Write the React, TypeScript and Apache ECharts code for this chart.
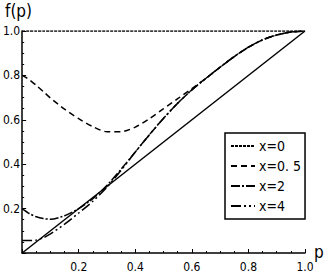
import React, { useEffect, useRef } from "react";
import * as echarts from "echarts";

const P_GRID = [0, 0.025, 0.05, 0.075, 0.1, 0.15, 0.2, 0.25, 0.3, 0.35, 0.4, 0.45, 0.5, 0.55, 0.6, 0.65, 0.7, 0.75, 0.8, 0.85, 0.9, 0.95, 1.0];
const X0_VALUES = [1, 1, 1, 1, 1, 1, 1, 1, 1, 1, 1, 1, 1, 1, 1, 1, 1, 1, 1, 1, 1, 1, 1];
const X05_VALUES = [0.8, 0.781, 0.755, 0.727, 0.698, 0.648, 0.605, 0.569, 0.546, 0.546, 0.567, 0.605, 0.65, 0.695, 0.74, 0.787, 0.837, 0.885, 0.927, 0.96, 0.982, 0.995, 1.0];
const X2_VALUES = [0.2, 0.178, 0.163, 0.155, 0.152, 0.168, 0.2, 0.245, 0.305, 0.378, 0.455, 0.533, 0.607, 0.675, 0.735, 0.787, 0.837, 0.885, 0.927, 0.96, 0.982, 0.995, 1.0];
const X4_VALUES = [0.056, 0.056, 0.058, 0.068, 0.086, 0.13, 0.18, 0.233, 0.297, 0.373, 0.455, 0.533, 0.607, 0.675, 0.735, 0.787, 0.837, 0.885, 0.927, 0.96, 0.982, 0.995, 1.0];
const DIAG_P = [0, 1];
const DIAG_VALUES = [0, 1];
const SERIES_NAMES = ["x=0", "x=0. 5", "x=2", "x=4"];

const FONT = "'Liberation Sans Narrow', 'DejaVu Sans Condensed', 'Liberation Sans', sans-serif";

const pairs = (xs: number[], ys: number[]) => xs.map((x, i) => [x, ys[i]]);

export default function App() {
  const ref = useRef<HTMLDivElement>(null);
  useEffect(() => {
    if (!ref.current) return;
    const chart = echarts.init(ref.current, null, { renderer: "svg" });
    const lineSeries = (name: string, ys: number[], type: any) => ({
      name,
      type: "line",
      data: pairs(P_GRID, ys),
      smooth: 0.25,
      symbol: "none",
      showSymbol: false,
      lineStyle: { color: "#000", width: 1.5, type },
      itemStyle: { color: "#000" },
    });
    chart.setOption({
      animation: false,
      backgroundColor: "#fff",
      grid: { left: 17, right: 22, top: 31, bottom: 20, containLabel: false },
      legend: {
        data: SERIES_NAMES,
        orient: "vertical",
        left: 225,
        top: 133,
        itemWidth: 24,
        itemHeight: 14,
        itemGap: 6,
        padding: [6, 4, 6, 5],
        borderColor: "#000",
        borderWidth: 1.5,
        backgroundColor: "#fff",
        itemStyle: { opacity: 0 },
        textStyle: { color: "#000", fontSize: 14, fontFamily: FONT, padding: [0, 0, 0, -1] },
      },
      xAxis: {
        type: "value",
        min: 0,
        max: 1,
        interval: 0.2,
        axisLine: { onZero: false, lineStyle: { color: "#000", width: 1.5 } },
        axisTick: { show: true, inside: true, length: 4, lineStyle: { color: "#000" } },
        minorTick: { show: true, splitNumber: 4, length: 2, lineStyle: { color: "#000" } },
        splitLine: { show: false },
        axisLabel: {
          color: "#000",
          fontSize: 12,
          fontFamily: FONT,
          margin: 8,
          formatter: (v: number) => (v === 0 ? "" : v.toFixed(1)),
        },
      },
      yAxis: {
        type: "value",
        min: 0,
        max: 1,
        interval: 0.2,
        axisLine: { show: true, onZero: false, lineStyle: { color: "#000", width: 1.5 } },
        axisTick: { show: true, inside: true, length: 4, lineStyle: { color: "#000" } },
        minorTick: { show: true, splitNumber: 4, length: 2, lineStyle: { color: "#000" } },
        splitLine: { show: false },
        axisLabel: {
          color: "#000",
          fontSize: 12,
          fontFamily: FONT,
          margin: 2,
          formatter: (v: number) => (v === 0 ? "" : v.toFixed(1)),
        },
      },
      graphic: [
        { type: "text", left: 5, top: 2, style: { text: "f(p)", fontSize: 17, fontFamily: FONT, fill: "#000" } },
        { type: "text", left: 314, top: 243, style: { text: "p", fontSize: 17, fontFamily: FONT, fill: "#000" } },
      ],
      series: [
        {
          name: "diag",
          type: "line",
          data: pairs(DIAG_P, DIAG_VALUES),
          symbol: "none",
          showSymbol: false,
          lineStyle: { color: "#000", width: 1.5, type: "solid" },
        },
        lineSeries(SERIES_NAMES[0], X0_VALUES, [3, 1]),
        lineSeries(SERIES_NAMES[1], X05_VALUES, [6, 4]),
        lineSeries(SERIES_NAMES[2], X2_VALUES, [9, 2, 2, 2]),
        lineSeries(SERIES_NAMES[3], X4_VALUES, [10, 3, 2, 3, 2, 3]),
      ],
    });
    return () => chart.dispose();
  }, []);
  return <div ref={ref} style={{ width: 327, height: 273, position: "absolute", left: 0, top: 0 }} />;
}
